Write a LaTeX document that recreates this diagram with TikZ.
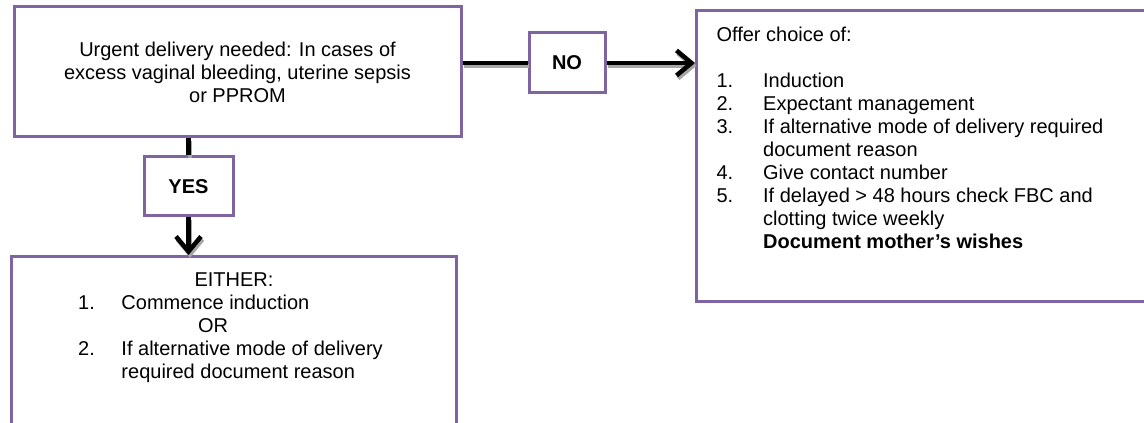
\documentclass[tikz,border=0pt]{standalone}
\usepackage{fontspec}
\setmainfont{Liberation Sans}
\usetikzlibrary{arrows.meta}
\definecolor{boxpurple}{HTML}{8064A2}
\tikzset{
  box/.style={draw=boxpurple,line width=1.8pt,fill=white,inner sep=0pt},
  link/.style={line width=2.7pt},
  linkshadow/.style={line width=2.7pt,draw=black!35,
    transform canvas={shift={(0.9pt,-1.7pt)}}},
  tip/.style={-{Straight Barb[length=9pt,width=15pt]}}
}
\newcommand{\numitem}[2]{\makebox[28pt][l]{#1}#2}

\begin{document}
\begin{tikzpicture}[x=0.6pt,y=-0.6pt]
\fontsize{12}{13.8}\selectfont
\useasboundingbox (0,0) rectangle (1144,423);
\clip (0,0) rectangle (1144,423);
% Boxes
\node[box,minimum width=268.2pt,minimum height=78pt,align=center]
  (urgent) at (237.5,72) {Urgent delivery needed: In cases of\\
  excess vaginal bleeding, uterine sepsis\\or PPROM};
\node[box,minimum width=45.6pt,minimum height=36pt,font=\bfseries]
  (no) at (567,63) {NO};
\node[box,minimum width=53.4pt,minimum height=35.4pt,font=\bfseries]
  (yes) at (188.5,186.5) {YES};
\node[box,anchor=north west,inner ysep=10pt] (choice) at (695,9)
  {\begin{minipage}[t][154.6pt][t]{300pt}
  \hspace*{12pt}Offer choice of:\\[13.8pt]
  \hspace*{12pt}\numitem{1.}{Induction}\\
  \hspace*{12pt}\numitem{2.}{Expectant management}\\
  \hspace*{12pt}\numitem{3.}{If alternative mode of delivery required}\\
  \hspace*{40pt}document reason\\
  \hspace*{12pt}\numitem{4.}{Give contact number}\\
  \hspace*{12pt}\numitem{5.}{If delayed > 48 hours check FBC and}\\
  \hspace*{40pt}clotting twice weekly\\
  \hspace*{40pt}\textbf{Document mother's wishes}
  \end{minipage}};
\node[box,anchor=north west,inner ysep=10pt] (either) at (10,255)
  {\begin{minipage}[t][100pt][t]{267pt}
  \makebox[267pt][c]{EITHER:}\\
  \hspace*{40pt}\makebox[26pt][l]{1.}Commence induction\\
  \makebox[242pt][c]{OR}\\
  \hspace*{40pt}\makebox[26pt][l]{2.}If alternative mode of delivery\\
  \hspace*{66pt}required document reason
  \end{minipage}};
% Shadows under the connectors
\draw[linkshadow] (no.west -| urgent.east) -- (no.west);
\draw[linkshadow,tip] (no.east) -- (no.east -| choice.west);
\draw[linkshadow] (urgent.south -| yes.north) -- (yes.north);
\draw[linkshadow,tip] (yes.south) -- (yes.south |- either.north);
% Connectors
\draw[link] (no.west -| urgent.east) -- (no.west);
\draw[link,tip] (no.east) -- (no.east -| choice.west);
\draw[link] (urgent.south -| yes.north) -- (yes.north);
\draw[link,tip] (yes.south) -- (yes.south |- either.north);
\end{tikzpicture}
\end{document}
